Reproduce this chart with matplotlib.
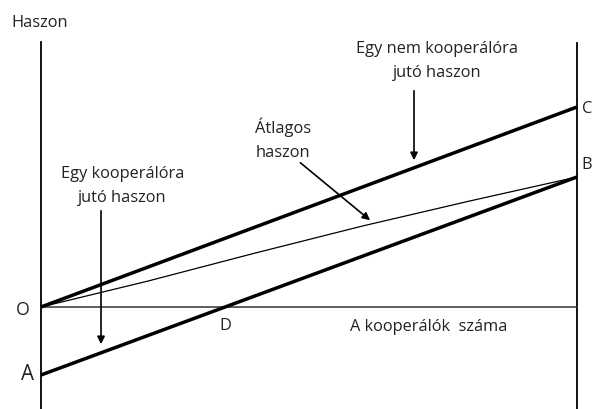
import matplotlib.pyplot as plt

plt.rcParams['font.family'] = ['Open Sans', 'DejaVu Sans']

# number of cooperators (0..N) and payoffs
n = [0, 10]
nem_koop = [0, 10]        # O -> C
koop = [-3.4, 6.5]        # A -> B
n_atl = [0, 2, 4, 6, 8, 10]
atlagos = [0, 1.3, 2.7, 4.05, 5.3, 6.5]   # O -> B (thin)

fig = plt.figure(figsize=(5.93, 4.09), dpi=100)
ax = fig.add_axes([0, 0, 1, 1])
ax.set_xlim(-0.765, 10.30)
ax.set_ylim(-5.1, 15.35)
ax.axis('off')

# axes
ax.plot([0, 0], [-5.1, 13.25], color='black', lw=1.3)
ax.plot([10, 10], [-5.1, 13.2], color='black', lw=1.3)
ax.plot([0, 10], [0, 0], color='#333333', lw=1.1)

ax.plot(n, nem_koop, color='black', lw=2.5, solid_capstyle='butt')
ax.plot(n, koop, color='black', lw=2.5, solid_capstyle='butt')
ax.plot(n_atl, atlagos, color='black', lw=0.9)

fs = 11.8
txt = '#222222'
ax.text(-0.56, 14.2, 'Haszon', fontsize=fs, ha='left', va='center', color=txt)
ax.text(-0.34, -0.15, 'O', fontsize=fs + 1, ha='center', va='center', color=txt)
ax.text(-0.25, -3.4, 'A', fontsize=fs + 3, ha='center', va='center', color=txt)
ax.text(10.09, 9.9, 'C', fontsize=fs, ha='left', va='center', color=txt)
ax.text(10.09, 7.1, 'B', fontsize=fs, ha='left', va='center', color=txt)
ax.text(3.43, -0.95, 'D', fontsize=fs, ha='center', va='center', color=txt)
ax.text(7.24, -1.0, 'A kooperálók  száma', fontsize=fs, ha='center', va='center', color=txt)

ax.text(7.39, 12.3, 'Egy nem kooperálóra\njutó haszon', fontsize=fs, ha='center',
        va='center', linespacing=1.7, color=txt)
ax.text(4.0, 8.38, 'Átlagos\nhaszon', fontsize=fs, ha='left', va='center',
        linespacing=1.7, color=txt)
ax.text(1.52, 6.05, 'Egy kooperálóra\njutó haszon', fontsize=fs, ha='center',
        va='center', linespacing=1.7, color=txt)

arrow = dict(arrowstyle='-|>', color='black', lw=1.2, mutation_scale=11)
ax.annotate('', xy=(6.96, 7.2), xytext=(6.96, 10.95), arrowprops=arrow)
ax.annotate('', xy=(6.18, 4.25), xytext=(4.8, 7.3), arrowprops=arrow)
ax.annotate('', xy=(1.12, -2.0), xytext=(1.12, 4.95), arrowprops=arrow)

fig.savefig('out.png', dpi=100)
